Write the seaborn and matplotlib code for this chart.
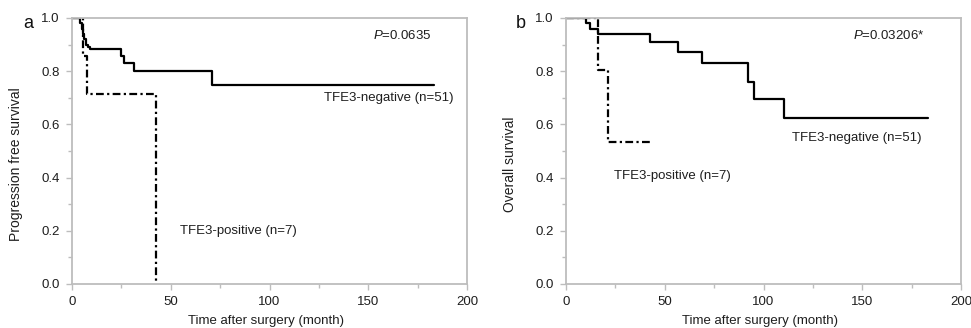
import matplotlib
matplotlib.use("Agg")
import matplotlib.pyplot as plt
import seaborn as sns
import pandas as pd
from matplotlib.ticker import MultipleLocator

sns.set_theme(style="white")
plt.rcParams['font.family'] = ['Liberation Sans', 'DejaVu Sans']
plt.rcParams['mathtext.fontset'] = 'custom'
plt.rcParams['mathtext.it'] = 'Liberation Sans:italic'
plt.rcParams['mathtext.rm'] = 'Liberation Sans'

# Panel a: progression free survival
pfs_neg_time = [0, 4.1, 5.0, 5.6, 6.2, 7.2, 8.3, 9.1, 24.8, 26.5, 31.5, 70.7, 183.3]
pfs_neg_surv = [1.0, 0.98, 0.96, 0.94, 0.92, 0.90, 0.89, 0.883, 0.858, 0.832, 0.80, 0.749, 0.749]
pfs_pos_time = [0, 5.7, 7.4, 42.4, 42.4]
pfs_pos_surv = [1.0, 0.857, 0.714, 0.0, 0.0]

# Panel b: overall survival
os_neg_time = [0, 10.1, 12.2, 16.4, 42.7, 56.9, 68.7, 92.3, 95.4, 110.5, 183.5]
os_neg_surv = [1.0, 0.98, 0.96, 0.941, 0.909, 0.871, 0.83, 0.761, 0.694, 0.623, 0.623]
os_pos_time = [0, 16.4, 21.4, 44.2]
os_pos_surv = [1.0, 0.803, 0.535, 0.535]

panel_letters = ["a", "b"]
y_labels = ["Progression free survival", "Overall survival"]
x_label = "Time after surgery (month)"
p_values = [r"$\it{P}$=0.0635", r"$\it{P}$=0.03206*"]
neg_label = "TFE3-negative (n=51)"
pos_label = "TFE3-positive (n=7)"

fig = plt.figure(figsize=(9.71, 3.28), dpi=100)
W, H = 971, 328
axes = [
    fig.add_axes([72 / W, 1 - 284 / H, 395 / W, 266 / H]),
    fig.add_axes([566 / W, 1 - 284 / H, 395 / W, 266 / H]),
]

data = [
    (pfs_neg_time, pfs_neg_surv, pfs_pos_time, pfs_pos_surv),
    (os_neg_time, os_neg_surv, os_pos_time, os_pos_surv),
]

text_pos = [
    dict(p=(182, 0.935), neg=(127.6, 0.70), pos=(54.7, 0.20)),
    dict(p=(181.3, 0.935), neg=(114.2, 0.549), pos=(24.3, 0.406)),
]

spine_col = "#bdbdbd"
txt_col = "#1e1e1e"
for i, ax in enumerate(axes):
    nt, ns, pt, ps = data[i]
    dneg = pd.DataFrame({"time": nt, "surv": ns})
    dpos = pd.DataFrame({"time": pt, "surv": ps})
    sns.lineplot(data=dneg, x="time", y="surv", ax=ax, estimator=None, sort=False,
                 drawstyle="steps-post", color="black", linewidth=1.6, zorder=2)
    sns.lineplot(data=dpos, x="time", y="surv", ax=ax, estimator=None, sort=False,
                 drawstyle="steps-post", color="black", linewidth=1.6,
                 linestyle=(0, (3.5, 1.5, 1, 1.5)), zorder=2)
    ax.set_xlim(0, 200)
    ax.set_ylim(0, 1.0)
    ax.xaxis.set_major_locator(MultipleLocator(50))
    ax.xaxis.set_minor_locator(MultipleLocator(25))
    ax.yaxis.set_minor_locator(MultipleLocator(0.1))
    ax.set_yticks([0, 0.2, 0.4, 0.6, 0.8, 1.0])
    ax.set_yticklabels(["0.0", "0.2", "0.4", "0.6", "0.8", "1.0"])
    for s in ax.spines.values():
        s.set_color(spine_col)
        s.set_linewidth(1.3)
        s.set_visible(True)
        s.set_zorder(3)
    ax.tick_params(which="major", direction="out", length=4.3, width=1.0,
                   color=spine_col, labelsize=9.5, labelcolor=txt_col,
                   bottom=True, left=True)
    ax.tick_params(axis="y", which="major", pad=4.5)
    ax.tick_params(axis="x", which="major", pad=4)
    ax.tick_params(which="minor", direction="out", length=3, width=1.0,
                   color=spine_col, bottom=True, left=True)
    ax.set_xlabel(x_label, fontsize=9.5, color=txt_col)
    ax.set_ylabel(y_labels[i], fontsize=10, color=txt_col)
    ax.xaxis.set_label_coords(0.49, -0.115)
    ax.yaxis.set_label_coords(-0.124, 0.45)
    tp = text_pos[i]
    ax.text(tp["p"][0], tp["p"][1], p_values[i], ha="right", va="center",
            fontsize=9.5, color=txt_col)
    ax.text(tp["neg"][0], tp["neg"][1], neg_label, ha="left", va="center",
            fontsize=9.5, color=txt_col)
    ax.text(tp["pos"][0], tp["pos"][1], pos_label, ha="left", va="center",
            fontsize=9.5, color=txt_col)
    ax.grid(False)

fig.text(28 / W, 1 - 24 / H, panel_letters[0], fontsize=13, ha="center", va="center", color="#111111")
fig.text(521 / W, 1 - 24 / H, panel_letters[1], fontsize=13, ha="center", va="center", color="#111111")

fig.savefig("out.png", dpi=100, facecolor="white")
